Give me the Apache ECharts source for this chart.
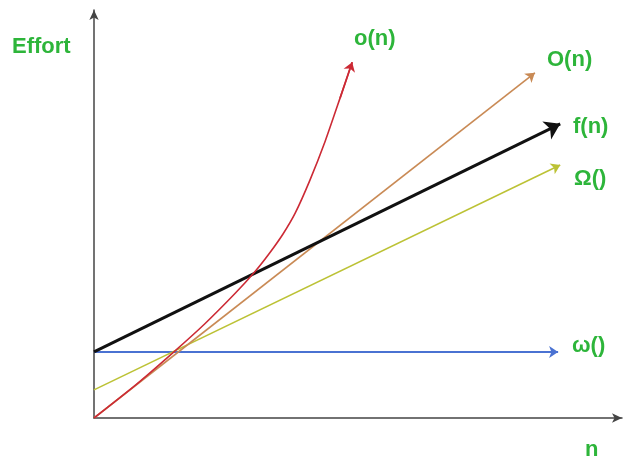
<!DOCTYPE html>
<html>
<head>
<meta charset="utf-8">
<script src="https://cdn.jsdelivr.net/npm/echarts@6/dist/echarts.min.js"></script>
<style>html,body{margin:0;padding:0;background:#fff;}#c{width:624px;height:463px;}</style>
</head>
<body>
<div id="c"></div>
<script>
// Curve data (x = n, y = effort)
const littleO = [[0,0],[0.78,0.80],[1.53,1.64],[2.10,2.31],[2.67,3.05],[3.05,3.59],[3.33,4.05],[3.58,4.51],[3.81,5.02],[4.09,5.83],[4.38,6.79],[4.66,7.84],[4.89,8.72]];
const bigO = [[0,0],[8.35,8.46]];
const fN = [[0,1.62],[8.83,7.21]];
const bigOmega = [[0,0.69],[8.83,6.20]];
const smallOmega = [[0,1.62],[8.79,1.62]];
const seriesNames = ['o(n)','O(n)','f(n)','Ω()','ω()'];
const axisNames = ['Effort','n'];

const chart = echarts.init(document.getElementById('c'));
const green = '#2db53a';
function arrowLine(name, pts, color, width, arrow) {
  return {
    type: 'lines', name: name, coordinateSystem: 'cartesian2d',
    symbol: ['none','arrow'], symbolSize: arrow,
    lineStyle: {color: color, width: width, opacity: 1, curveness: 0},
    data: [{coords: pts}], z: 3
  };
}
const n = littleO.length;
const lab = (text, x, y) => ({type:'text', left:x, top:y, style:{text:text, fill:green, font:'bold 22px "Liberation Sans", Arial, sans-serif'}});
chart.setOption({
  animation: false,
  grid: {left: 94, right: 2, top: 10, bottom: 45},
  xAxis: {type:'value', min:0, max:10, splitLine:{show:false}, axisTick:{show:false}, axisLabel:{show:false},
    axisLine:{lineStyle:{color:'#444', width:1.5}, symbol:['none','arrow'], symbolSize:[7,10]}},
  yAxis: {type:'value', min:0, max:10, splitLine:{show:false}, axisTick:{show:false}, axisLabel:{show:false},
    axisLine:{lineStyle:{color:'#444', width:1.5}, symbol:['none','arrow'], symbolSize:[7,10]}},
  series: [
    arrowLine(seriesNames[4], smallOmega, '#4a72d2', 2, 9),
    arrowLine(seriesNames[3], bigOmega, '#bcc235', 1.6, 9),
    arrowLine(seriesNames[1], bigO, '#c98a55', 1.6, 9),
    arrowLine(seriesNames[2], fN, '#111111', 3, 15),
    {type:'line', name: seriesNames[0], data: littleO, smooth: 0.2, symbol:'none',
      lineStyle:{color:'#cc2a35', width:1.6}, z: 4},
    arrowLine(seriesNames[0], [littleO[n-2], littleO[n-1]], '#cc2a35', 1.6, 9)
  ],
  graphic: [
    lab(axisNames[0], 12, 36),
    lab(axisNames[1], 585, 439),
    lab(seriesNames[0], 354, 28),
    lab(seriesNames[1], 547, 49),
    lab(seriesNames[2], 573, 116),
    lab(seriesNames[3], 574, 168),
    lab(seriesNames[4], 572, 335)
  ]
});
</script>
</body>
</html>
